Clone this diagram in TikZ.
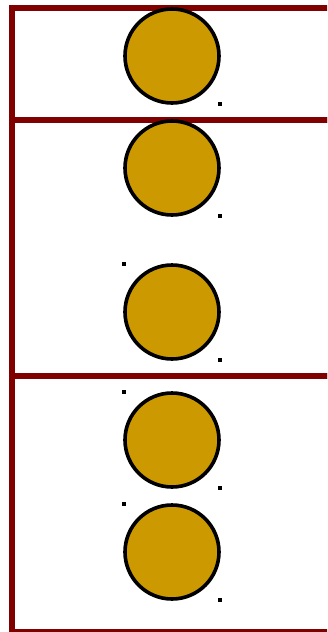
\documentclass[tikz,border=0pt]{standalone}
\usetikzlibrary{calc}
\definecolor{cframe}{RGB}{128,0,0}
\definecolor{cball}{RGB}{204,153,0}
\tikzset{
  frame/.style={draw=cframe,line width=5.4pt},
  ball/.style={circle,fill=cball,draw=black,line width=3.6pt,
    minimum size=94pt,inner sep=0pt},
  tick/.style={rectangle,fill=black,draw=none,minimum size=4.6pt,inner sep=0pt}
}
\begin{document}
\begin{tikzpicture}[x=1pt,y=-1pt]
  \useasboundingbox (0,0) rectangle (327,632);
  \clip (0,0) rectangle (327,632);
  % three stacked frames, open to the right edge
  \draw[frame] (12,8) rectangle (345,120);
  \draw[frame] (12,120) rectangle (345,376);
  \draw[frame] (12,376) rectangle (345,631.5);
  % balls
  \node[ball] (b1) at (172,56) {};
  \node[ball] (b2) at (172,168) {};
  \node[ball] (b3) at (172,312) {};
  \node[ball] (b4) at (172,440) {};
  \node[ball] (b5) at (172,552) {};
  % corner marks
  \node[tick] (t1) at ($(b1.center)+(48,48)$) {};
  \node[tick] (t2) at ($(b2.center)+(48,48)$) {};
  \node[tick] (t3) at ($(b3.center)+(-48,-48)$) {};
  \node[tick] (t4) at ($(b3.center)+(48,48)$) {};
  \node[tick] (t5) at ($(b4.center)+(-48,-48)$) {};
  \node[tick] (t6) at ($(b4.center)+(48,48)$) {};
  \node[tick] (t7) at ($(b5.center)+(-48,-48)$) {};
  \node[tick] (t8) at ($(b5.center)+(48,48)$) {};
\end{tikzpicture}
\end{document}
